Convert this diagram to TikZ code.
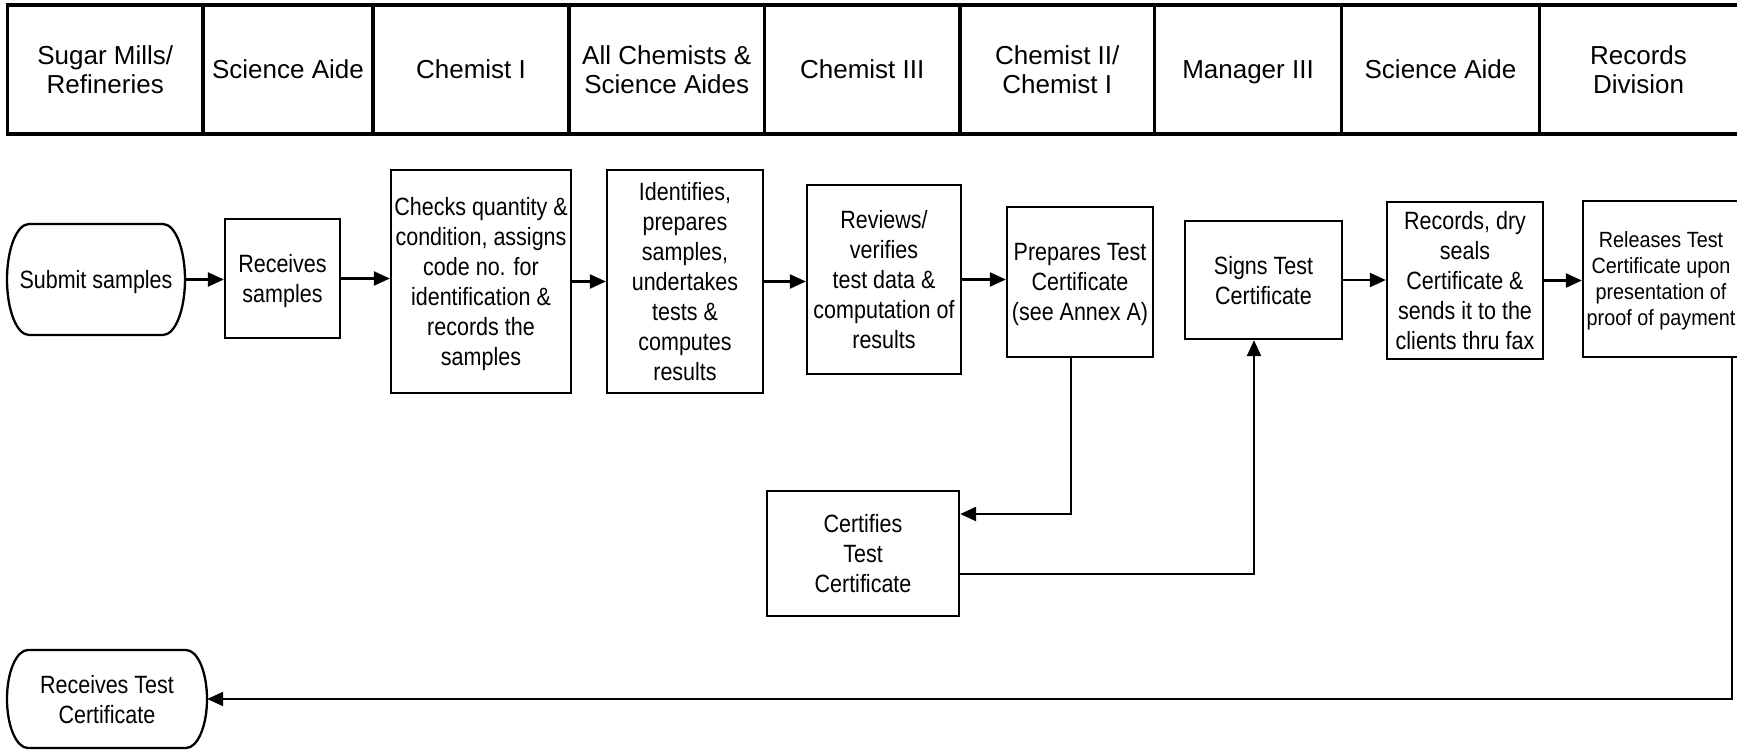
\documentclass[tikz,border=0pt]{standalone}
\usepackage{fontspec}
\setmainfont{Liberation Sans}
\newfontfamily\narrowfont[FakeStretch=0.86]{Liberation Sans}
\newfontfamily\narrowerfont[FakeStretch=0.9]{Liberation Sans}
\usetikzlibrary{arrows.meta,calc}
\begin{document}
\begin{tikzpicture}[x=1pt,y=-1pt,
  hdrtext/.style={font=\fontsize{26}{29}\selectfont, align=center, inner sep=0pt, text depth=0pt},
  procbox/.style={draw, line width=2.3pt, align=center, inner sep=0pt, text depth=0pt, font=\narrowfont\fontsize{25}{30}\selectfont},
  termtext/.style={align=center, inner sep=0pt, text depth=0pt, font=\narrowfont\fontsize{25}{30}\selectfont},
  termline/.style={line width=2.3pt},
  arr/.style={line width=2.3pt, -{Triangle[length=16pt,width=14pt]}},
  hdrline/.style={line width=3.5pt}
]
\useasboundingbox (0,0) rectangle (1737,750);
% header table
\draw[hdrline] (7.5,5) rectangle (1741,134);
\foreach \x in {203,373,569,764.5,960,1154.5,1341.5,1539.5} \draw[hdrline] (\x,5) -- (\x,134);
\node[hdrtext] (h1) at (105.25,69.5) {Sugar Mills/\\Refineries};
\node[hdrtext] (h2) at (288,69.5) {Science Aide};
\node[hdrtext] (h3) at (471,69.5) {Chemist I};
\node[hdrtext] (h4) at (666.75,69.5) {All Chemists \&\\Science Aides};
\node[hdrtext] (h5) at (862.25,69.5) {Chemist III};
\node[hdrtext] (h6) at (1057.25,69.5) {Chemist II/\\Chemist I};
\node[hdrtext] (h7) at (1248,69.5) {Manager III};
\node[hdrtext] (h8) at (1440.5,69.5) {Science Aide};
\node[hdrtext] (h9) at (1638.5,69.5) {Records\\Division};

% terminals
\draw[termline] (29,224) -- (163,224) arc[start angle=-90, end angle=90, x radius=22, y radius=55.5]
  -- (29,335) arc[start angle=90, end angle=270, x radius=22, y radius=55.5] -- cycle;
\node[termtext, minimum width=178pt, minimum height=111pt] (submit) at (96,279.5) {Submit samples};

\draw[termline] (28,650) -- (186,650) arc[start angle=-90, end angle=90, x radius=21, y radius=49]
  -- (28,748) arc[start angle=90, end angle=270, x radius=21, y radius=49] -- cycle;
\node[termtext, minimum width=200pt, minimum height=98pt] (rtc) at (107,699) {Receives Test\\Certificate};

% process boxes
\node[procbox, minimum width=115pt, minimum height=119pt] (recv) at (282.5,278.5) {Receives\\samples};
\node[procbox, minimum width=180pt, minimum height=223pt] (checks) at (481,281.5) {Checks quantity \&\\condition, assigns\\code no. for\\identification \&\\records the\\samples};
\node[procbox, minimum width=156pt, minimum height=223pt] (ident) at (685,281.5) {Identifies,\\prepares\\samples,\\undertakes\\tests \&\\computes\\results};
\node[procbox, minimum width=154pt, minimum height=189pt] (review) at (884,279.5) {Reviews/\\verifies\\test data \&\\computation of\\results};
\node[procbox, minimum width=146pt, minimum height=150pt] (prepares) at (1080,282) {Prepares Test\\Certificate\\(see Annex A)};
\node[procbox, minimum width=157pt, minimum height=118pt] (signs) at (1263.5,280) {Signs Test\\Certificate};
\node[procbox, minimum width=156pt, minimum height=157pt] (records) at (1465,280.5) {Records, dry\\seals\\Certificate \&\\sends it to the\\clients thru fax};
\node[procbox, minimum width=156pt, minimum height=156pt, font=\narrowerfont\fontsize{22}{26}\selectfont] (releases) at (1661,279) {Releases Test\\Certificate upon\\presentation of\\proof of payment};
\node[procbox, minimum width=192pt, minimum height=125pt] (certifies) at (863,553.5) {Certifies\\Test\\Certificate};

% connectors
\draw[arr] (submit.east) -- (submit.east -| recv.west);
\draw[arr] (recv.east) -- (recv.east -| checks.west);
\draw[arr] (checks.east) -- (checks.east -| ident.west);
\draw[arr] (ident.east) -- (ident.east -| review.west);
\draw[arr] (review.east) -- (review.east -| prepares.west);
\draw[arr] (signs.east) -- (signs.east -| records.west);
\draw[arr] (records.east) -- (records.east -| releases.west);
\draw[arr] ([xshift=-9pt]prepares.south) |- ([yshift=39.5pt]certifies.east);
\draw[arr] ([yshift=-20.5pt]certifies.east) -| ([xshift=-9.5pt]signs.south);
\draw[arr] ([xshift=-8pt]releases.south east) |- (rtc.east);
\end{tikzpicture}
\end{document}
